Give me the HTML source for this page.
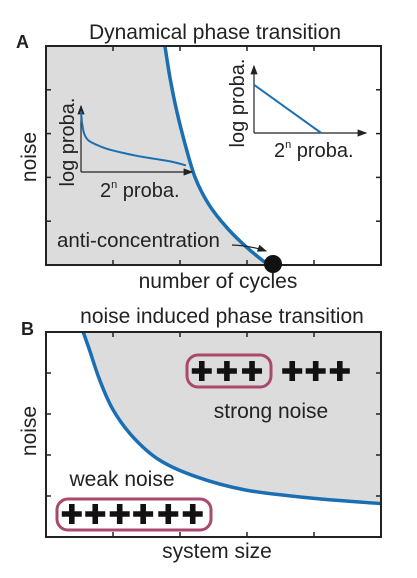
<!DOCTYPE html>
<html><head><meta charset="utf-8"><style>
body{margin:0;background:#fff;width:417px;height:573px;overflow:hidden}
text{font-family:"Liberation Sans",sans-serif;fill:#222}
</style></head><body>
<svg id="s" width="417" height="573" viewBox="0 0 417 573">
<defs><marker id="ar" markerWidth="8" markerHeight="8" refX="7" refY="4" orient="auto"><path d="M0,1 L8,4 L0,7Z" fill="#222"/></marker></defs>
<g id="pa">
<text x="16" y="48" font-size="18" font-weight="bold">A</text>
<text x="215" y="39" font-size="21" text-anchor="middle">Dynamical phase transition</text>
<path id="fillA" fill="#dcdcdc"/>
<path id="curveA" fill="none" stroke="#1a6fb3" stroke-width="3.5"/>
<rect x="46" y="46" width="335" height="219" fill="none" stroke="#222" stroke-width="2"/>
<g id="ticksA" stroke="#222" stroke-width="1.5"></g>
<circle cx="273" cy="264" r="9" fill="#111"/>
<text x="57" y="247" font-size="20.5">anti-concentration</text>
<path d="M232,245 Q252,246 266,251" fill="none" stroke="#222" stroke-width="1.2" marker-end="url(#ar)"/>
<text x="218" y="288" font-size="21" text-anchor="middle">number of cycles</text>
<text transform="translate(36,157) rotate(-90)" font-size="21" text-anchor="middle">noise</text>
<g>
<path d="M81,172 H192" fill="none" stroke="#222" stroke-width="1.2" marker-end="url(#ar)"/>
<path d="M81,172 V106" stroke="#222" stroke-width="1.2" marker-end="url(#ar)"/>
<path id="insetL" fill="none" stroke="#1a6fb3" stroke-width="2"/>
<text transform="translate(74,142) rotate(-90)" font-size="20" text-anchor="middle">log proba.</text>
<text x="100" y="197" font-size="20">2<tspan font-size="11" dy="-9">n</tspan><tspan dy="9"> proba.</tspan></text>
</g>
<g>
<path d="M254,133 H366" stroke="#222" stroke-width="1.2" marker-end="url(#ar)"/>
<path d="M254,133 V66" stroke="#222" stroke-width="1.2" marker-end="url(#ar)"/>
<path id="insetR" fill="none" stroke="#1a6fb3" stroke-width="2"/>
<text transform="translate(244,103) rotate(-90)" font-size="20" text-anchor="middle">log proba.</text>
<text x="274" y="157" font-size="20">2<tspan font-size="11" dy="-9">n</tspan><tspan dy="9"> proba.</tspan></text>
</g>
</g>
<g id="pb">
<text x="21" y="335" font-size="18" font-weight="bold">B</text>
<text x="222" y="323" font-size="21" text-anchor="middle">noise induced phase transition</text>
<path id="fillB" fill="#dcdcdc"/>
<path id="curveB" fill="none" stroke="#1a6fb3" stroke-width="3.5"/>
<rect x="46" y="332" width="335" height="205" fill="none" stroke="#222" stroke-width="2"/>
<g id="ticksB" stroke="#222" stroke-width="1.5"></g>
<rect x="187" y="355" width="84" height="32" rx="11" fill="none" stroke="#a8496e" stroke-width="3"/>
<rect x="57" y="499" width="154" height="31" rx="11" fill="none" stroke="#a8496e" stroke-width="3"/>
<g id="plus" fill="#111"></g>
<text x="271" y="418" font-size="21" text-anchor="middle">strong noise</text>
<text x="122" y="486" font-size="21" text-anchor="middle">weak noise</text>
<text x="217" y="558" font-size="21" text-anchor="middle">system size</text>
<text transform="translate(36,431) rotate(-90)" font-size="21" text-anchor="middle">noise</text>
</g>
</svg>
<script>
// Panel A boundary: x = number of cycles (0..1), y = noise (0..1)
const cyclesA=[0.355,0.370,0.390,0.415,0.445,0.485,0.539,0.599,0.654,0.669];
const noiseA=[1.0,0.857,0.704,0.553,0.400,0.279,0.172,0.081,0.012,0.0];
// Left inset: log-proba decay
const leftX=[0,0.01,0.03,0.07,0.15,0.25,0.4,0.55,0.7,0.85,1.0];
const leftY=[0.92,0.75,0.58,0.48,0.41,0.35,0.29,0.24,0.2,0.16,0.1];
// Right inset: straight line
const rightX=[0,0.6];
const rightY=[0.72,0];
// Panel B boundary: system size vs noise
const sizeB=[0.111,0.129,0.159,0.199,0.259,0.338,0.448,0.597,0.796,1.0];
const noiseB=[1.0,0.917,0.771,0.624,0.489,0.376,0.294,0.229,0.189,0.163];
const ticks=[0.2,0.4,0.6,0.8];
const strongPlus=[0.465,0.54,0.615,0.735,0.805,0.877];
const weakPlus=[0.077,0.147,0.22,0.29,0.365,0.438];

function ax(x0,x1,y0,y1){return {x:v=>x0+v*(x1-x0),y:v=>y0-v*(y0-y1)};}
const A=ax(46,381,265,46), B=ax(46,381,537,332);
const LI=ax(81,186,172,106), RI=ax(254,366,133,66);
function pth(s,xs,ys){return xs.map((v,i)=>(i?'L':'M')+s.x(v).toFixed(1)+','+s.y(ys[i]).toFixed(1)).join(' ');}
function smooth(s,xs,ys){
 const P=xs.map((v,i)=>[s.x(v),s.y(ys[i])]);
 let d='M'+P[0][0].toFixed(1)+','+P[0][1].toFixed(1);
 for(let i=0;i<P.length-1;i++){
  const p0=P[i-1]||P[i],p1=P[i],p2=P[i+1],p3=P[i+2]||p2;
  const c1=[p1[0]+(p2[0]-p0[0])/6,p1[1]+(p2[1]-p0[1])/6];
  const c2=[p2[0]-(p3[0]-p1[0])/6,p2[1]-(p3[1]-p1[1])/6];
  d+=` C${c1[0].toFixed(1)},${c1[1].toFixed(1)} ${c2[0].toFixed(1)},${c2[1].toFixed(1)} ${p2[0].toFixed(1)},${p2[1].toFixed(1)}`;
 }
 return d;}
const cA=smooth(A,cyclesA,noiseA);
document.getElementById('curveA').setAttribute('d',cA);
document.getElementById('fillA').setAttribute('d',cA+' L46,265 L46,46 Z');
document.getElementById('insetL').setAttribute('d',smooth(LI,leftX,leftY));
document.getElementById('insetR').setAttribute('d',pth(RI,rightX,rightY));
const cB=smooth(B,sizeB,noiseB);
document.getElementById('curveB').setAttribute('d',cB);
document.getElementById('fillB').setAttribute('d',cB+' L381,332 Z');
function addTicks(g,s,ya,yb){
 ticks.forEach(t=>{
  const X=s.x(t),Y=s.y(t);
  const segs=[[X,ya,X,ya-5],[X,yb,X,yb+5],[46,Y,51,Y],[381,Y,376,Y]];
  segs.forEach(q=>{const l=document.createElementNS('http://www.w3.org/2000/svg','line');
   l.setAttribute('x1',q[0]);l.setAttribute('y1',q[1]);l.setAttribute('x2',q[2]);l.setAttribute('y2',q[3]);
   
   
   g.appendChild(l);});
 });}
addTicks(document.getElementById('ticksA'),A,265,46);
addTicks(document.getElementById('ticksB'),B,537,332);
const pg=document.getElementById('plus');
function plus(cx,cy){
 const p=document.createElementNS('http://www.w3.org/2000/svg','path');
 const a=10,h=2.8;
 p.setAttribute('d',`M${cx-a},${cy-h}h${a-h}v${h-a}h${2*h}v${a-h}h${a-h}v${2*h}h${h-a}v${a-h}h${-2*h}v${h-a}h${h-a}z`);
 
 
 pg.appendChild(p);}
strongPlus.forEach(v=>plus(B.x(v),371));
weakPlus.forEach(v=>plus(B.x(v),514));
</script>
</body></html>
